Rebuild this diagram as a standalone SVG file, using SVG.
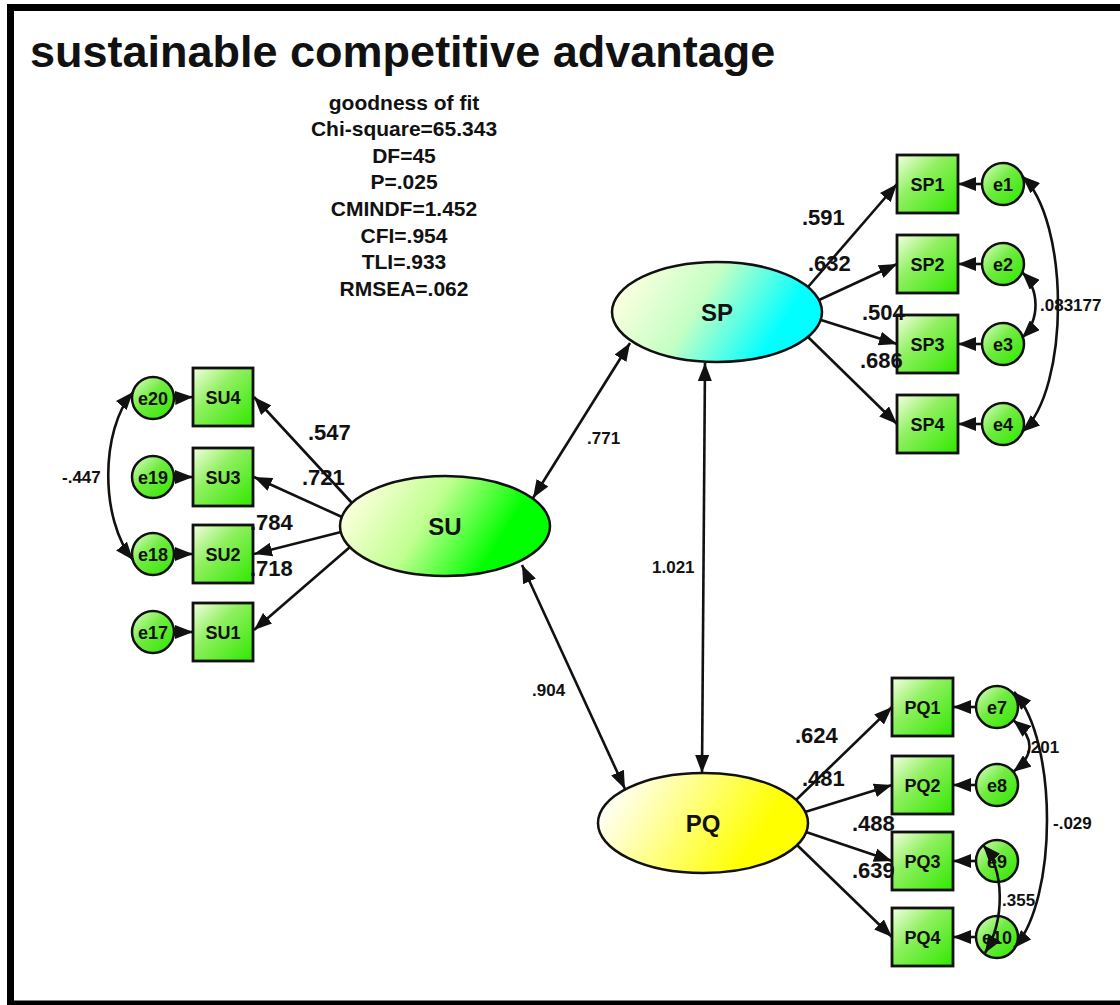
<svg xmlns="http://www.w3.org/2000/svg" width="1120" height="1005" viewBox="0 0 1120 1005">
<defs>
<style>
text{font-family:"Liberation Sans",Arial,sans-serif;font-weight:bold;fill:#111}
.title{font-size:45px}
.fit{font-size:21px;text-anchor:middle}
.box{fill:url(#gBox);stroke:#111;stroke-width:2.8}
.err{fill:url(#gErr);stroke:#111;stroke-width:2.5}
.lat{stroke:#111;stroke-width:2.5}
.bl{font-size:18px;text-anchor:middle}
.lt{font-size:24px;text-anchor:middle}
.ld{font-size:22px}
.sm{font-size:17px}
.c{fill:none;stroke:#111;stroke-width:2.6;marker-end:url(#ah)}
.cc{fill:none;stroke:#111;stroke-width:2.6;marker-start:url(#ah);marker-end:url(#ah)}
</style>
<marker id="ah" viewBox="0 0 18 14" refX="18" refY="7" markerWidth="18" markerHeight="14" markerUnits="userSpaceOnUse" orient="auto-start-reverse"><path d="M0,0 L18,7 L0,14 z" fill="#111"/></marker>
<linearGradient id="gBox" x1="0" y1="0" x2="1" y2="1"><stop offset="0" stop-color="#f4ffe2"/><stop offset="0.4" stop-color="#90f060"/><stop offset="1" stop-color="#30e800"/></linearGradient>
<linearGradient id="gErr" x1="0" y1="0" x2="1" y2="1"><stop offset="0" stop-color="#e0ffc8"/><stop offset="0.45" stop-color="#70ec40"/><stop offset="1" stop-color="#2ee600"/></linearGradient>
<linearGradient id="gSP" x1="0" y1="0.35" x2="1" y2="0.65"><stop offset="0" stop-color="#ffffe0"/><stop offset="0.4" stop-color="#c4ffc4"/><stop offset="0.82" stop-color="#00ffff"/></linearGradient>
<linearGradient id="gSU" x1="0" y1="0.35" x2="1" y2="0.65"><stop offset="0" stop-color="#ffffe0"/><stop offset="0.4" stop-color="#c0ff90"/><stop offset="0.78" stop-color="#00ff00"/></linearGradient>
<linearGradient id="gPQ" x1="0" y1="0.35" x2="1" y2="0.65"><stop offset="0" stop-color="#ffffff"/><stop offset="0.78" stop-color="#ffff00"/></linearGradient>
</defs>
<rect width="1120" height="1005" fill="#ffffff"/>
<path d="M1130,7.5 H10.5 V1004 H1130" fill="none" stroke="#000" stroke-width="7"/>
<text x="30" y="67" class="title">sustainable competitive advantage</text>
<g id="fit">
<text x="404" y="110" class="fit">goodness of fit</text>
<text x="404" y="136" class="fit">Chi-square=65.343</text>
<text x="404" y="163" class="fit">DF=45</text>
<text x="404" y="189" class="fit">P=.025</text>
<text x="404" y="216" class="fit">CMINDF=1.452</text>
<text x="404" y="243" class="fit">CFI=.954</text>
<text x="404" y="269" class="fit">TLI=.933</text>
<text x="404" y="296" class="fit">RMSEA=.062</text>
</g>
<g id="SP"><ellipse cx="717" cy="312" rx="105" ry="50" fill="url(#gSP)" class="lat"/><text x="717" y="321" class="lt">SP</text></g>
<g id="SU"><ellipse cx="445" cy="526" rx="105" ry="50" fill="url(#gSU)" class="lat"/><text x="445" y="535" class="lt">SU</text></g>
<g id="PQ"><ellipse cx="703" cy="823" rx="105" ry="50" fill="url(#gPQ)" class="lat"/><text x="703" y="832" class="lt">PQ</text></g>
<g id="SP1"><rect x="897" y="155" width="61" height="58" class="box"/><text x="927.5" y="190.5" class="bl">SP1</text></g>
<g id="SP2"><rect x="897" y="235" width="61" height="58" class="box"/><text x="927.5" y="270.5" class="bl">SP2</text></g>
<g id="SP3"><rect x="897" y="315" width="61" height="58" class="box"/><text x="927.5" y="350.5" class="bl">SP3</text></g>
<g id="SP4"><rect x="897" y="395" width="61" height="58" class="box"/><text x="927.5" y="430.5" class="bl">SP4</text></g>
<g id="e1"><circle cx="1003" cy="184" r="21" class="err"/><text x="1003" y="190.5" class="bl">e1</text></g>
<g id="e2"><circle cx="1003" cy="264" r="21" class="err"/><text x="1003" y="270.5" class="bl">e2</text></g>
<g id="e3"><circle cx="1003" cy="344" r="21" class="err"/><text x="1003" y="350.5" class="bl">e3</text></g>
<g id="e4"><circle cx="1003" cy="424" r="21" class="err"/><text x="1003" y="430.5" class="bl">e4</text></g>
<g id="SU4"><rect x="193" y="368" width="60" height="58" class="box"/><text x="223" y="403.5" class="bl">SU4</text></g>
<g id="SU3"><rect x="193" y="448" width="60" height="58" class="box"/><text x="223" y="483.5" class="bl">SU3</text></g>
<g id="SU2"><rect x="193" y="525" width="60" height="58" class="box"/><text x="223" y="560.5" class="bl">SU2</text></g>
<g id="SU1"><rect x="193" y="603" width="60" height="58" class="box"/><text x="223" y="638.5" class="bl">SU1</text></g>
<g id="e20"><circle cx="153" cy="398" r="21" class="err"/><text x="153" y="404.5" class="bl">e20</text></g>
<g id="e19"><circle cx="153" cy="477" r="21" class="err"/><text x="153" y="483.5" class="bl">e19</text></g>
<g id="e18"><circle cx="153" cy="554" r="21" class="err"/><text x="153" y="560.5" class="bl">e18</text></g>
<g id="e17"><circle cx="153" cy="632" r="21" class="err"/><text x="153" y="638.5" class="bl">e17</text></g>
<g id="PQ1"><rect x="892" y="678" width="61" height="58" class="box"/><text x="922.5" y="713.5" class="bl">PQ1</text></g>
<g id="PQ2"><rect x="892" y="756" width="61" height="58" class="box"/><text x="922.5" y="791.5" class="bl">PQ2</text></g>
<g id="PQ3"><rect x="892" y="832" width="61" height="58" class="box"/><text x="922.5" y="867.5" class="bl">PQ3</text></g>
<g id="PQ4"><rect x="892" y="908" width="61" height="58" class="box"/><text x="922.5" y="943.5" class="bl">PQ4</text></g>
<g id="e7"><circle cx="997" cy="707" r="21" class="err"/><text x="997" y="713.5" class="bl">e7</text></g>
<g id="e8"><circle cx="997" cy="785" r="21" class="err"/><text x="997" y="791.5" class="bl">e8</text></g>
<g id="e9"><circle cx="997" cy="861" r="21" class="err"/><text x="997" y="867.5" class="bl">e9</text></g>
<g id="e10"><circle cx="997" cy="937" r="21" class="err"/><text x="997" y="943.5" class="bl">e10</text></g>
<g id="connectors">
<path class="c" d="M808,287 L897,184"/>
<path class="c" d="M819,300 L897,264"/>
<path class="c" d="M821,320 L897,344"/>
<path class="c" d="M808,337 L897,424"/>
<path class="c" d="M352,503 L254,397"/>
<path class="c" d="M342,517 L254,477"/>
<path class="c" d="M341,532 L254,554"/>
<path class="c" d="M350,547 L254,630"/>
<path class="c" d="M796,800 L892,707"/>
<path class="c" d="M805,812 L892,785"/>
<path class="c" d="M806,832 L892,861"/>
<path class="c" d="M797,845 L892,937"/>
<path class="c" d="M982,184 L958,184"/>
<path class="c" d="M982,264 L958,264"/>
<path class="c" d="M982,344 L958,344"/>
<path class="c" d="M982,424 L958,424"/>
<path class="c" d="M174,398 L193,397"/>
<path class="c" d="M174,477 L193,477"/>
<path class="c" d="M174,554 L193,554"/>
<path class="c" d="M174,632 L193,632"/>
<path class="c" d="M976,707 L953,707"/>
<path class="c" d="M976,785 L953,785"/>
<path class="c" d="M976,861 L953,861"/>
<path class="c" d="M976,937 L953,937"/>
<path class="cc" d="M533,498 L630,343"/>
<path class="cc" d="M705,363 L702,773"/>
<path class="cc" d="M522,565 L625,789"/>
<path class="cc" d="M1022,176 C1070,220 1070,390 1022,432"/>
<path class="cc" d="M1022,272 C1040,290 1040,320 1022,338"/>
<path class="cc" d="M133,392 C100,430 100,520 133,560"/>
<path class="cc" d="M1013,720 C1035,738 1035,755 1013,772"/>
<path class="cc" d="M1014,692 C1058,740 1058,900 1014,948"/>
<path class="cc" d="M983,845 C1005,870 1005,920 985,953"/>
</g>
<g id="labels">
<text x="802" y="225" class="ld">.591</text>
<text x="808" y="271" class="ld">.632</text>
<text x="862" y="320" class="ld">.504</text>
<text x="860" y="368" class="ld">.686</text>
<text x="308" y="440" class="ld">.547</text>
<text x="302" y="485" class="ld">.721</text>
<text x="250" y="530" class="ld">.784</text>
<text x="250" y="576" class="ld">.718</text>
<text x="795" y="743" class="ld">.624</text>
<text x="802" y="786" class="ld">.481</text>
<text x="852" y="831" class="ld">.488</text>
<text x="852" y="878" class="ld">.639</text>
<text x="587" y="444" class="sm">.771</text>
<text x="652" y="573" class="sm">1.021</text>
<text x="532" y="696" class="sm">.904</text>
<text x="1040" y="311" class="sm">.083177</text>
<text x="62" y="483" class="sm">-.447</text>
<text x="1026" y="753" class="sm">.201</text>
<text x="1053" y="829" class="sm">-.029</text>
<text x="1002" y="906" class="sm">.355</text>
</g>
</svg>
